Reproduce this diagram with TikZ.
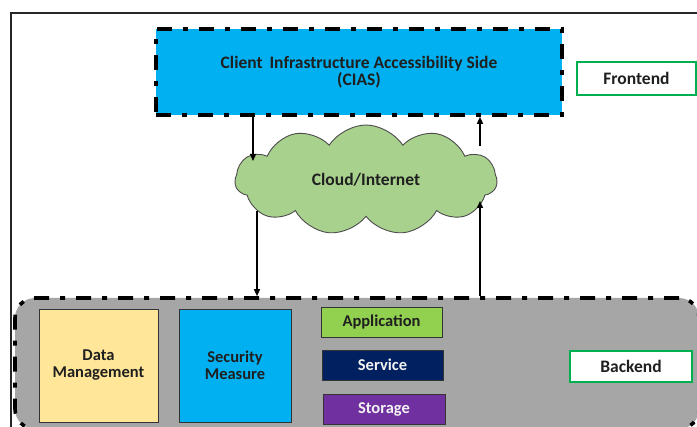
\documentclass[tikz,border=0pt]{standalone}
\usepackage{fontspec}
\setmainfont{Carlito}
\usetikzlibrary{shapes.symbols,arrows.meta}

\definecolor{ciasblue}{HTML}{00B0F0}
\definecolor{taggreen}{HTML}{00B050}
\definecolor{cloudgreen}{HTML}{A9D18E}
\definecolor{backgray}{HTML}{A6A6A6}
\definecolor{datayellow}{HTML}{FFE699}
\definecolor{appgreen}{HTML}{92D050}
\definecolor{svcnavy}{HTML}{002060}
\definecolor{stopurple}{HTML}{7030A0}
\definecolor{inkgray}{HTML}{1F1F1F}

\begin{document}
\begin{tikzpicture}[x=1pt,y=-1pt,
  dashdot/.style={line width=3.6pt, dash pattern=on 15pt off 11pt on 5pt off 11pt},
  lbl/.style={font=\bfseries\fontsize{16.5}{17}\selectfont, text=inkgray, align=center},
  big/.style={font=\bfseries\fontsize{17.5}{17}\selectfont},
  box/.style={lbl, draw=black!80, line width=0.9pt, inner sep=0pt},
  tag/.style={lbl, big, draw=taggreen, line width=2.2pt, fill=white, inner sep=0pt},
  arr/.style={-{Triangle[length=7pt,width=6pt]}, line width=1.4pt, black}
]
\useasboundingbox (0,0) rectangle (697,427);
\clip (0,0) rectangle (697,427);
\fill[white] (0,0) rectangle (697,427);

% outer frame
\draw[line width=2pt, black!85] (10.5,13.5) rectangle (720,450);

% front end: client side
\node[lbl, big, fill=ciasblue, dashdot, draw=black, minimum width=406pt, minimum height=86pt, inner sep=0pt]
  (cias) at (359,72) {Client\, Infrastructure Accessibility Side\\(CIAS)};
\node[tag, minimum width=119pt, minimum height=33pt] (front) at (636.5,78.5) {Frontend};

% network
\node[lbl, big, cloud, cloud puffs=11, cloud puff arc=115, cloud ignores aspect,
      fill=cloudgreen, draw=black!70, line width=0.9pt,
      minimum width=262pt, minimum height=110pt, inner sep=0pt]
  (cloud) at (366,180) {Cloud/Internet};

% back end area
\node[fill=backgray, draw=black, dashdot, rounded corners=20pt,
      minimum width=684pt, minimum height=131pt, inner sep=0pt]
  (back) at (357,363.5) {};

\node[box, fill=datayellow, minimum width=119pt, minimum height=113pt] (dm) at (98.5,365.5) {Data\\Management};
\node[box, fill=ciasblue, minimum width=112pt, minimum height=113pt] (sm) at (235,365.5) {Security\\Measure};
\node[box, fill=appgreen, minimum width=121pt, minimum height=30pt] (app) at (381.5,322) {Application};
\node[box, fill=svcnavy, text=white!95!black, minimum width=121pt, minimum height=30pt] (svc) at (382.5,365) {Service};
\node[box, fill=stopurple, text=white!95!black, minimum width=122pt, minimum height=30pt] (sto) at (384,409) {Storage};
\node[tag, minimum width=122pt, minimum height=31pt] (backtag) at (631,366.5) {Backend};

% connectors
\coordinate (inL) at (253,161);
\coordinate (outR) at (480,146);
\coordinate (outL) at (257,211);
\coordinate (inR) at (480,201);
\draw[arr] (cias.south -| inL) -- (inL);
\draw[arr] (outR) -- (cias.south -| outR);
\draw[arr] (outL) -- (back.north -| outL);
\draw[arr] (back.north -| inR) -- (inR);
\end{tikzpicture}
\end{document}
